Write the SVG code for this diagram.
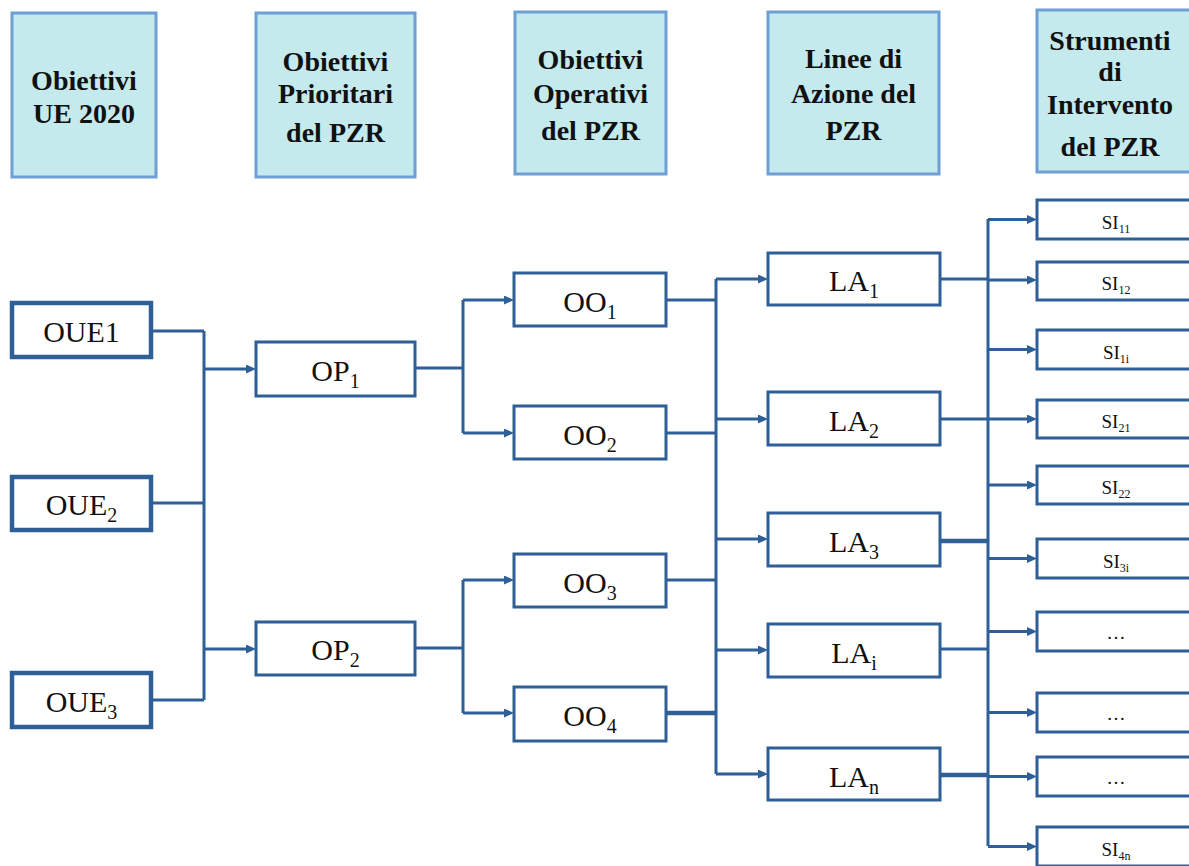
<svg xmlns="http://www.w3.org/2000/svg" width="1189" height="866" viewBox="0 0 1189 866">
<style>
.hdr rect{fill:#C4EAEE;stroke:#6F9FD4;stroke-width:3}
.hdr text{font-family:"Liberation Serif",serif;font-weight:bold;font-size:28px;fill:#111;text-anchor:middle}
.node rect{fill:#fff;stroke:#2E5F96;stroke-width:3}
.node.thick rect{stroke-width:4.5}
.node text{font-family:"Liberation Serif",serif;font-size:30px;fill:#111;text-anchor:middle}
.si rect{fill:#fff;stroke:#2E5F96;stroke-width:3}
.si text{font-family:"Liberation Serif",serif;font-size:19px;fill:#111;text-anchor:middle}
.sub{font-size:20px}
.ssub{font-size:12px}
.conn path{fill:none;stroke:#2E5F96;stroke-width:3}
.conn .arr{marker-end:url(#ah)}
</style>
<defs>
<marker id="ah" markerUnits="userSpaceOnUse" markerWidth="10" markerHeight="9" refX="2" refY="4.5" orient="auto">
<path d="M0,0 L10,4.5 L0,9 z" fill="#2E5F96"/>
</marker>
</defs>
<rect width="1189" height="866" fill="#fff"/>

<g id="h1" class="hdr"><rect x="12" y="13" width="144" height="164"/>
<text x="84" y="90">Obiettivi</text><text x="84" y="123">UE 2020</text></g>
<g id="h2" class="hdr"><rect x="256" y="13" width="159" height="164"/>
<text x="335.5" y="71">Obiettivi</text><text x="335.5" y="103">Prioritari</text><text x="335.5" y="142">del PZR</text></g>
<g id="h3" class="hdr"><rect x="515" y="12" width="151" height="162"/>
<text x="590.5" y="69">Obiettivi</text><text x="590.5" y="103">Operativi</text><text x="590.5" y="140">del PZR</text></g>
<g id="h4" class="hdr"><rect x="768" y="12" width="171" height="162"/>
<text x="853.5" y="68">Linee di</text><text x="853.5" y="103">Azione del</text><text x="853.5" y="140">PZR</text></g>
<g id="h5" class="hdr"><rect x="1037" y="10" width="170" height="162"/>
<text x="1110" y="50">Strumenti</text><text x="1110" y="81">di</text><text x="1110" y="114">Intervento</text><text x="1110" y="156">del PZR</text></g>

<g id="connectors" class="conn">
<path d="M151,331 H204 M151,503 H204 M151,700 H204 M204,331 V700"/>
<path class="arr" d="M204,369 H248"/>
<path class="arr" d="M204,649 H248"/>
<path d="M415,368 H463 M463,300 V433 M415,648 H463 M463,580 V713"/>
<path class="arr" d="M463,300 H506"/>
<path class="arr" d="M463,433 H506"/>
<path class="arr" d="M463,580 H506"/>
<path class="arr" d="M463,713 H506"/>
<path d="M666,300 H716 M666,433 H716 M666,580 H716 M716,279 V774"/>
<path d="M666,713 H716" style="stroke-width:4.5"/>
<path class="arr" d="M716,279 H760"/>
<path class="arr" d="M716,419 H760"/>
<path class="arr" d="M716,539 H760"/>
<path class="arr" d="M716,650 H760"/>
<path class="arr" d="M716,774 H760"/>
<path d="M940,279 H988 M940,419 H988 M940,649 H988 M988,219 V846"/>
<path d="M940,541 H988 M940,775 H988" style="stroke-width:4.5"/>
<path class="arr" d="M988,219.5 H1029"/>
<path class="arr" d="M988,280 H1029"/>
<path class="arr" d="M988,349.5 H1029"/>
<path class="arr" d="M988,419 H1029"/>
<path class="arr" d="M988,485 H1029"/>
<path class="arr" d="M988,558.5 H1029"/>
<path class="arr" d="M988,631.5 H1029"/>
<path class="arr" d="M988,712.5 H1029"/>
<path class="arr" d="M988,776.5 H1029"/>
<path class="arr" d="M988,846.5 H1029"/>
</g>

<g id="OUE1" class="node thick"><rect x="12" y="303" width="139" height="54"/><text x="81.5" y="342">OUE1</text></g>
<g id="OUE2" class="node thick"><rect x="12" y="477" width="139" height="53"/><text x="81.5" y="515">OUE<tspan class="sub" dy="7">2</tspan></text></g>
<g id="OUE3" class="node thick"><rect x="12" y="673" width="139" height="54"/><text x="81.5" y="712">OUE<tspan class="sub" dy="7">3</tspan></text></g>

<g id="OP1" class="node"><rect x="256" y="342" width="159" height="54"/><text x="335.5" y="381">OP<tspan class="sub" dy="7">1</tspan></text></g>
<g id="OP2" class="node"><rect x="256" y="622" width="159" height="53"/><text x="335.5" y="660">OP<tspan class="sub" dy="7">2</tspan></text></g>

<g id="OO1" class="node"><rect x="514" y="273" width="152" height="53"/><text x="590" y="312">OO<tspan class="sub" dy="7">1</tspan></text></g>
<g id="OO2" class="node"><rect x="514" y="406" width="152" height="53"/><text x="590" y="445">OO<tspan class="sub" dy="7">2</tspan></text></g>
<g id="OO3" class="node"><rect x="514" y="554" width="152" height="53"/><text x="590" y="593">OO<tspan class="sub" dy="7">3</tspan></text></g>
<g id="OO4" class="node"><rect x="514" y="687" width="152" height="54"/><text x="590" y="726">OO<tspan class="sub" dy="7">4</tspan></text></g>

<g id="LA1" class="node"><rect x="768" y="253" width="172" height="52"/><text x="854" y="291">LA<tspan class="sub" dy="7">1</tspan></text></g>
<g id="LA2" class="node"><rect x="768" y="392" width="172" height="53"/><text x="854" y="431">LA<tspan class="sub" dy="7">2</tspan></text></g>
<g id="LA3" class="node"><rect x="768" y="513" width="172" height="53"/><text x="854" y="552">LA<tspan class="sub" dy="7">3</tspan></text></g>
<g id="LAi" class="node"><rect x="768" y="624" width="172" height="53"/><text x="854" y="663">LA<tspan class="sub" dy="7">i</tspan></text></g>
<g id="LAn" class="node"><rect x="768" y="748" width="172" height="52"/><text x="854" y="787">LA<tspan class="sub" dy="7">n</tspan></text></g>

<g id="SI11" class="si"><rect x="1037" y="200" width="170" height="39"/><text x="1116" y="229">SI<tspan class="ssub" dy="4">11</tspan></text></g>
<g id="SI12" class="si"><rect x="1037" y="262" width="170" height="38"/><text x="1116" y="290">SI<tspan class="ssub" dy="4">12</tspan></text></g>
<g id="SI1i" class="si"><rect x="1037" y="330" width="170" height="39"/><text x="1116" y="359">SI<tspan class="ssub" dy="4">1i</tspan></text></g>
<g id="SI21" class="si"><rect x="1037" y="400" width="170" height="38"/><text x="1116" y="428">SI<tspan class="ssub" dy="4">21</tspan></text></g>
<g id="SI22" class="si"><rect x="1037" y="466" width="170" height="38"/><text x="1116" y="494">SI<tspan class="ssub" dy="4">22</tspan></text></g>
<g id="SI3i" class="si"><rect x="1037" y="539" width="170" height="39"/><text x="1116" y="568">SI<tspan class="ssub" dy="4">3i</tspan></text></g>
<g id="SIx1" class="si"><rect x="1037" y="612" width="170" height="39"/><text x="1116" y="639">…</text></g>
<g id="SIx2" class="si"><rect x="1037" y="693" width="170" height="39"/><text x="1116" y="720">…</text></g>
<g id="SIx3" class="si"><rect x="1037" y="757" width="170" height="39"/><text x="1116" y="784">…</text></g>
<g id="SI4n" class="si"><rect x="1037" y="827" width="170" height="39"/><text x="1116" y="856">SI<tspan class="ssub" dy="4">4n</tspan></text></g>
</svg>
